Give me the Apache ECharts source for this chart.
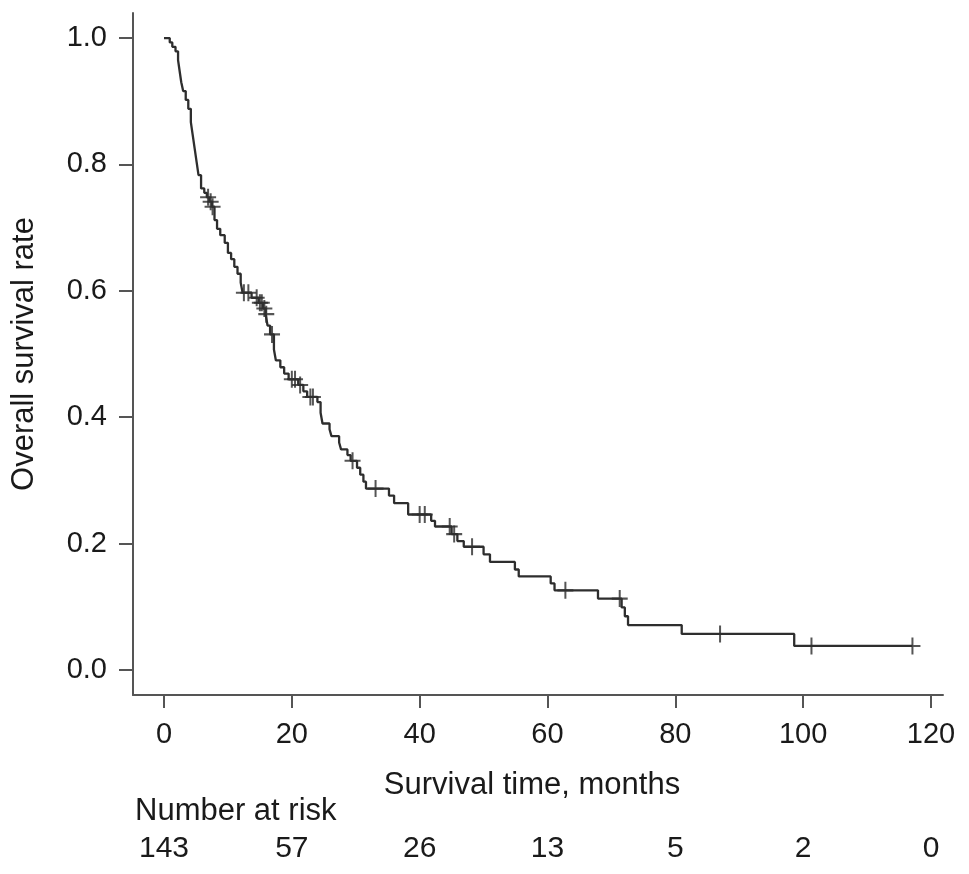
<!DOCTYPE html>
<html><head><meta charset="utf-8">
<script src="https://cdn.jsdelivr.net/npm/echarts@6/dist/echarts.min.js"></script>
<style>html,body{margin:0;padding:0;background:#fff}#c{width:969px;height:874px}</style>
</head><body><div id="c"></div>
<script>
// Kaplan-Meier step points: time (months) and survival after the step
const stepTimes = [0, 0.9, 1.3, 1.8, 2.2, 2.4, 2.7, 3.0, 3.4, 3.8, 4.2, 4.5, 4.8, 5.1, 5.4, 5.8, 6.3,
  6.7, 7.1, 7.5, 7.9, 8.3, 8.8, 9.5, 10.0, 10.5, 11.0, 11.5, 12.0, 12.3, 13.7, 14.8, 15.5, 15.9,
  16.2, 16.6, 17.2, 17.5, 18.2, 18.8, 19.5, 21.0, 21.8, 22.4, 24.0, 24.5, 24.8, 25.9, 26.2, 27.4,
  27.7, 28.7, 29.2, 30.2, 30.7, 31.2, 31.6, 35.2, 36.0, 38.2, 41.8, 42.4, 45.0, 45.9, 46.9, 50.0,
  51.0, 54.9, 55.5, 60.5, 61.1, 67.9, 71.6, 72.1, 72.6, 81.0, 98.6, 117.1];
const stepSurv = [1.000, 0.993, 0.986, 0.979, 0.965, 0.951, 0.930, 0.916, 0.902, 0.888, 0.867, 0.846, 0.825, 0.804, 0.783, 0.762, 0.755,
  0.748, 0.741, 0.733, 0.712, 0.698, 0.688, 0.676, 0.660, 0.650, 0.638, 0.627, 0.613, 0.597, 0.589, 0.581, 0.572, 0.563,
  0.545, 0.531, 0.507, 0.490, 0.479, 0.469, 0.460, 0.451, 0.441, 0.432, 0.424, 0.407, 0.390, 0.381, 0.370, 0.360,
  0.349, 0.340, 0.331, 0.320, 0.309, 0.298, 0.287, 0.276, 0.264, 0.246, 0.236, 0.227, 0.215, 0.204, 0.195, 0.183,
  0.171, 0.159, 0.148, 0.137, 0.126, 0.113, 0.099, 0.085, 0.071, 0.057, 0.038, 0.038];
// Censored observations
const censorTimes = [6.9, 7.3, 7.6, 12.5, 13.2, 14.5, 15.0, 15.3, 15.7, 16.0, 16.9, 20.0, 20.5, 21.3, 22.9, 23.3,
  29.5, 33.1, 40.0, 40.8, 44.7, 45.4, 48.2, 62.8, 71.3, 87.0, 101.3, 117.1];
const censorSurv = [0.748, 0.741, 0.733, 0.597, 0.597, 0.589, 0.581, 0.581, 0.572, 0.563, 0.531, 0.460, 0.460, 0.451, 0.432, 0.432,
  0.331, 0.287, 0.246, 0.246, 0.227, 0.215, 0.195, 0.126, 0.113, 0.057, 0.038, 0.038];
const xTicks = [0, 20, 40, 60, 80, 100, 120];
const yTicks = [0, 0.2, 0.4, 0.6, 0.8, 1.0];
const riskTimes = [0, 20, 40, 60, 80, 100, 120];
const riskCounts = [143, 57, 26, 13, 5, 2, 0];

const FONT = '"Liberation Sans", Arial, Helvetica, sans-serif';
const TXT = '#1a1a1a';
const AX = '#555555';
const FS = 29;
const FT = 31;

const chart = echarts.init(document.getElementById('c'), null, {renderer: 'canvas'});
const curve = stepTimes.map((t, i) => [t, stepSurv[i]]);
const cens = censorTimes.map((t, i) => [t, censorSurv[i]]);

chart.setOption({
  animation: false,
  backgroundColor: '#ffffff',
  grid: {left: 133, right: 26, top: 13, bottom: 179, containLabel: false},
  xAxis: {
    type: 'value', min: -4.85, max: 121.88,
    name: 'Survival time, months', nameLocation: 'middle', nameGap: 75,
    nameTextStyle: {fontSize: FT, fontFamily: FONT, color: TXT, padding: [0, 12, 0, 0]},
    axisLine: {show: true, onZero: false, lineStyle: {color: AX, width: 2}},
    axisTick: {show: true, length: 13, inside: false, customValues: xTicks, lineStyle: {color: AX, width: 2}},
    axisLabel: {customValues: xTicks, fontSize: FS, fontFamily: FONT, color: TXT, margin: 25},
    splitLine: {show: false}
  },
  yAxis: {
    type: 'value', min: -0.0396, max: 1.0396,
    name: 'Overall survival rate', nameLocation: 'middle', nameGap: 93,
    nameTextStyle: {fontSize: FT, fontFamily: FONT, color: TXT},
    axisLine: {show: true, onZero: false, lineStyle: {color: AX, width: 2}},
    axisTick: {show: true, length: 14, inside: false, customValues: yTicks, lineStyle: {color: AX, width: 2}},
    axisLabel: {customValues: yTicks, fontSize: FS, fontFamily: FONT, color: TXT, margin: 26,
      formatter: v => Number(v).toFixed(1)},
    splitLine: {show: false}
  },
  series: [
    {type: 'line', data: curve, step: 'end', showSymbol: false, symbol: 'none',
      lineStyle: {color: '#2e2e2e', width: 2.3}, clip: false},
    {type: 'scatter', data: cens, symbol: 'path://M7,0h2v16h-2z M0,7h16v2h-16z',
      symbolSize: [16, 17], itemStyle: {color: '#2a2a2a'}, clip: false}
  ]
});

// Number-at-risk table placed with the chart's own x scale
const g = [];
const riskY = 849;
g.push({type: 'text', left: 135, top: 796, style: {text: 'Number at risk', font: FT + 'px ' + FONT, fill: TXT}});
riskTimes.forEach((t, i) => {
  const px = chart.convertToPixel({gridIndex: 0}, [t, 0])[0];
  g.push({type: 'text', x: px, y: riskY, style: {text: String(riskCounts[i]), font: '30px ' + FONT, fill: TXT,
    align: 'center', verticalAlign: 'middle', textAlign: 'center', textVerticalAlign: 'middle'}});
});
chart.setOption({graphic: g});
</script>
</body></html>
